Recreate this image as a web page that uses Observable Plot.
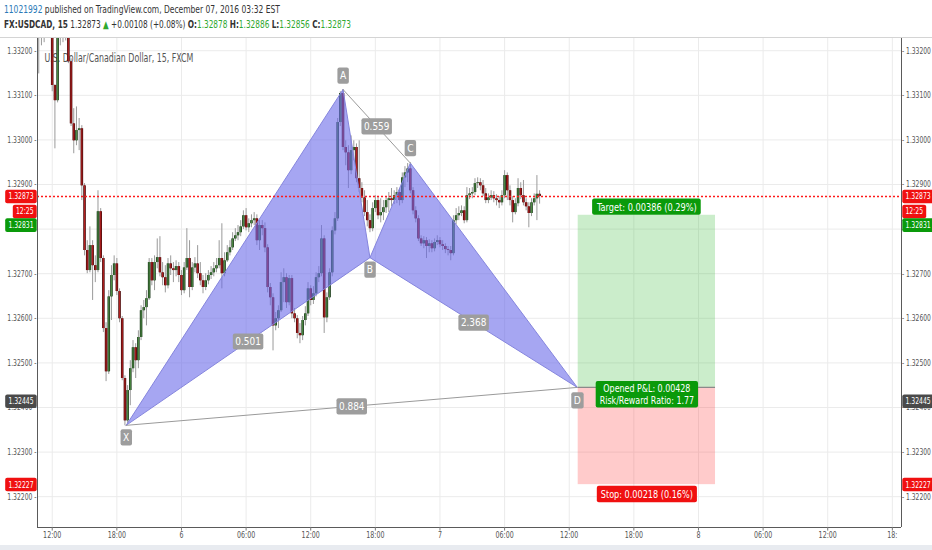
<!DOCTYPE html>
<html><head><meta charset="utf-8">
<script src="https://cdn.jsdelivr.net/npm/d3@7"></script>
<script src="https://cdn.jsdelivr.net/npm/@observablehq/plot@0.6"></script>
<style>
body{margin:0;background:#fff;width:932px;height:550px;overflow:hidden;font-family:"Liberation Sans Narrow","DejaVu Sans Condensed","Liberation Sans",Arial,sans-serif}
#hdr{height:38px;box-sizing:border-box;border-bottom:1px solid #d4d4d4;position:relative;color:#333;font-size:10.5px;white-space:nowrap}
#l1{position:absolute;left:4px;top:3px;transform:scaleX(0.80);transform-origin:0 50%}
#l2{position:absolute;left:4px;top:18px;transform:scaleX(0.78);transform-origin:0 50%}
.g{color:#2fa82f}
#foot{height:5px;background:#e8ebf0}
#chart svg{display:block}
</style></head><body>
<div id="hdr">
<div id="l1"><span style="color:#2a7ab8">11021992</span> published on TradingView.com, December 07, 2016 03:32 EST</div>
<div id="l2"><b>FX:USDCAD, 15</b> 1.32873 <span class="g">&#9650;</span> +0.00108 (+0.08%) <b>O:</b><span class="g">1.32878</span> <b>H:</b><span class="g">1.32886</span> <b>L:</b><span class="g">1.32856</span> <b>C:</b><span class="g">1.32873</span></div>
</div>
<div id="chart"></div>
<div id="foot"></div>
<script>
// ---- data ----
const candleStart = Date.UTC(2016, 11, 5, 10, 45);
const candleStepMinutes = 15;
const opens = [
1.33256,1.33240,1.33267,1.33278,1.33290,1.33256,1.33122,1.33088,1.33234,1.33245,
1.33234,1.33240,1.33175,1.33036,1.32998,1.33021,1.33025,1.32897,1.32752,1.32707,
1.32763,1.32718,1.32707,1.32839,1.32734,1.32577,1.32480,1.32648,1.32696,1.32722,
1.32660,1.32599,1.32465,1.32370,1.32438,1.32487,1.32534,1.32505,1.32557,1.32617,
1.32624,1.32644,1.32725,1.32684,1.32725,1.32736,1.32702,1.32691,1.32673,1.32722,
1.32711,1.32707,1.32716,1.32696,1.32662,1.32713,1.32734,1.32669,1.32713,1.32722,
1.32700,1.32684,1.32669,1.32684,1.32696,1.32702,1.32711,1.32718,1.32734,1.32700,
1.32729,1.32747,1.32758,1.32778,1.32785,1.32792,1.32805,1.32830,1.32803,1.32812,
1.32819,1.32823,1.32774,1.32808,1.32801,1.32758,1.32669,1.32646,1.32583,1.32599,
1.32617,1.32680,1.32691,1.32635,1.32689,1.32610,1.32599,1.32566,1.32561,1.32595,
1.32610,1.32666,1.32640,1.32655,1.32691,1.32700,1.32778,1.32601,1.32646,1.32702,
1.32796,1.32823,1.33039,1.33104,1.32983,1.32971,1.32931,1.32976,1.32983,1.32913,
1.32891,1.32870,1.32837,1.32819,1.32801,1.32846,1.32864,1.32830,1.32837,1.32848,
1.32864,1.32868,1.32864,1.32875,1.32882,1.32864,1.32915,1.32926,1.32935,1.32886,
1.32841,1.32823,1.32778,1.32767,1.32774,1.32761,1.32767,1.32756,1.32770,1.32774,
1.32765,1.32761,1.32754,1.32752,1.32745,1.32819,1.32830,1.32835,1.32841,1.32819,
1.32875,1.32879,1.32882,1.32902,1.32904,1.32897,1.32879,1.32864,1.32870,1.32875,
1.32868,1.32864,1.32859,1.32875,1.32920,1.32886,1.32864,1.32837,1.32857,1.32891,
1.32875,1.32859,1.32850,1.32835,1.32859,1.32868,1.32878];
const highs = [
1.33267,1.33278,1.33290,1.33312,1.33312,1.33267,1.33124,1.33245,1.33267,1.33256,
1.33249,1.33245,1.33182,1.33070,1.33074,1.33048,1.33032,1.32902,1.32774,1.32805,
1.32774,1.32740,1.32886,1.32846,1.32740,1.32590,1.32662,1.32718,1.32740,1.32734,
1.32666,1.32604,1.32471,1.32449,1.32505,1.32550,1.32543,1.32572,1.32628,1.32640,
1.32662,1.32734,1.32734,1.32740,1.32778,1.32783,1.32725,1.32718,1.32734,1.32740,
1.32725,1.32729,1.32725,1.32707,1.32725,1.32801,1.32774,1.32725,1.32736,1.32763,
1.32725,1.32696,1.32700,1.32707,1.32716,1.32725,1.32734,1.32774,1.32812,1.32747,
1.32763,1.32774,1.32792,1.32801,1.32808,1.32819,1.32841,1.32846,1.32823,1.32832,
1.32837,1.32832,1.32819,1.32819,1.32814,1.32765,1.32678,1.32655,1.32613,1.32628,
1.32702,1.32711,1.32700,1.32696,1.32696,1.32622,1.32606,1.32588,1.32604,1.32626,
1.32680,1.32673,1.32671,1.32702,1.32716,1.32808,1.32785,1.32657,1.32711,1.32805,
1.32837,1.33048,1.33108,1.33113,1.32998,1.32987,1.33009,1.32998,1.32991,1.32998,
1.32904,1.32886,1.32864,1.32832,1.32859,1.32875,1.32873,1.32868,1.32864,1.32873,
1.32882,1.32891,1.32886,1.32893,1.32891,1.32926,1.32940,1.32947,1.32949,1.32893,
1.32850,1.32830,1.32785,1.32783,1.32781,1.32776,1.32774,1.32778,1.32785,1.32781,
1.32774,1.32767,1.32761,1.32761,1.32830,1.32846,1.32850,1.32852,1.32850,1.32893,
1.32891,1.32893,1.32913,1.32915,1.32913,1.32909,1.32891,1.32879,1.32886,1.32884,
1.32877,1.32873,1.32886,1.32931,1.32926,1.32897,1.32873,1.32868,1.32913,1.32904,
1.32909,1.32868,1.32859,1.32868,1.32879,1.32920,1.32886];
const lows = [
1.33148,1.33211,1.33218,1.33245,1.33234,1.33108,1.32980,1.33083,1.33211,1.33218,
1.33222,1.33171,1.33030,1.32969,1.32987,1.32976,1.32864,1.32740,1.32700,1.32702,
1.32640,1.32680,1.32702,1.32725,1.32568,1.32458,1.32474,1.32595,1.32684,1.32651,
1.32590,1.32460,1.32359,1.32364,1.32404,1.32478,1.32465,1.32487,1.32550,1.32599,
1.32583,1.32640,1.32673,1.32662,1.32711,1.32693,1.32673,1.32657,1.32666,1.32696,
1.32680,1.32693,1.32680,1.32651,1.32655,1.32707,1.32646,1.32662,1.32702,1.32689,
1.32673,1.32655,1.32662,1.32675,1.32687,1.32693,1.32702,1.32711,1.32666,1.32693,
1.32725,1.32740,1.32752,1.32772,1.32774,1.32783,1.32799,1.32796,1.32792,1.32803,
1.32808,1.32763,1.32752,1.32785,1.32747,1.32657,1.32628,1.32527,1.32572,1.32577,
1.32613,1.32635,1.32622,1.32628,1.32599,1.32590,1.32554,1.32543,1.32550,1.32583,
1.32604,1.32628,1.32631,1.32648,1.32680,1.32693,1.32566,1.32590,1.32640,1.32693,
1.32787,1.32817,1.33030,1.32976,1.32942,1.32891,1.32922,1.32953,1.32904,1.32882,
1.32859,1.32828,1.32805,1.32792,1.32794,1.32837,1.32821,1.32814,1.32819,1.32835,
1.32837,1.32850,1.32855,1.32857,1.32852,1.32857,1.32893,1.32904,1.32879,1.32832,
1.32814,1.32772,1.32761,1.32756,1.32734,1.32747,1.32747,1.32749,1.32763,1.32758,
1.32752,1.32745,1.32740,1.32729,1.32740,1.32810,1.32819,1.32828,1.32812,1.32814,
1.32866,1.32868,1.32875,1.32891,1.32886,1.32873,1.32857,1.32857,1.32864,1.32859,
1.32852,1.32846,1.32852,1.32868,1.32864,1.32852,1.32814,1.32832,1.32850,1.32866,
1.32852,1.32841,1.32803,1.32828,1.32852,1.32819,1.32856];
const closes = [
1.33240,1.33267,1.33278,1.33290,1.33256,1.33122,1.33088,1.33234,1.33245,1.33234,
1.33240,1.33175,1.33036,1.32998,1.33021,1.33025,1.32897,1.32752,1.32707,1.32763,
1.32718,1.32707,1.32839,1.32734,1.32577,1.32480,1.32648,1.32696,1.32722,1.32660,
1.32599,1.32465,1.32370,1.32438,1.32487,1.32534,1.32505,1.32557,1.32617,1.32624,
1.32644,1.32725,1.32684,1.32725,1.32736,1.32702,1.32691,1.32673,1.32722,1.32711,
1.32707,1.32716,1.32696,1.32662,1.32713,1.32734,1.32669,1.32713,1.32722,1.32700,
1.32684,1.32669,1.32684,1.32696,1.32702,1.32711,1.32718,1.32734,1.32700,1.32729,
1.32747,1.32758,1.32778,1.32785,1.32792,1.32805,1.32830,1.32803,1.32812,1.32819,
1.32823,1.32774,1.32808,1.32801,1.32758,1.32669,1.32646,1.32583,1.32599,1.32617,
1.32680,1.32691,1.32635,1.32689,1.32610,1.32599,1.32566,1.32561,1.32595,1.32610,
1.32666,1.32640,1.32655,1.32691,1.32700,1.32778,1.32601,1.32646,1.32702,1.32796,
1.32823,1.33039,1.33104,1.32983,1.32971,1.32931,1.32976,1.32983,1.32913,1.32891,
1.32870,1.32837,1.32819,1.32801,1.32846,1.32864,1.32830,1.32837,1.32848,1.32864,
1.32868,1.32864,1.32875,1.32882,1.32864,1.32915,1.32926,1.32935,1.32886,1.32841,
1.32823,1.32778,1.32767,1.32774,1.32761,1.32767,1.32756,1.32770,1.32774,1.32765,
1.32761,1.32754,1.32752,1.32745,1.32819,1.32830,1.32835,1.32841,1.32819,1.32875,
1.32879,1.32882,1.32902,1.32904,1.32897,1.32879,1.32864,1.32870,1.32875,1.32868,
1.32864,1.32859,1.32875,1.32920,1.32886,1.32864,1.32837,1.32857,1.32891,1.32875,
1.32859,1.32850,1.32835,1.32859,1.32868,1.32878,1.32873];

const patternNames = ["X", "A", "B", "C", "D"];
const patternTimes = ["2016-12-05T18:52Z", "2016-12-06T15:00Z", "2016-12-06T17:30Z", "2016-12-06T21:15Z", "2016-12-07T12:45Z"];
const patternPrices = [1.32360, 1.33113, 1.32736, 1.32948, 1.32445];
const ratioLabels = ["0.501", "0.559", "2.368", "0.884"];
const ratioPairs = [[0, 2], [1, 3], [2, 4], [0, 4]];

const lastPrice = 1.32873;
const entryPrice = 1.32445;
const targetPrice = 1.32831;
const stopPrice = 1.32227;
const positionStart = "2016-12-07T12:50Z";
const positionEnd = "2016-12-08T01:35Z";
const targetText = "Target: 0.00386 (0.29%)";
const stopText = "Stop: 0.00218 (0.16%)";
const pnlText = "Opened P&L: 0.00428\nRisk/Reward Ratio: 1.77";
const countdownText = "12:25";
const watermark = "U.S. Dollar/Canadian Dollar, 15, FXCM";

const yTicks = [1.322, 1.323, 1.324, 1.325, 1.326, 1.327, 1.328, 1.329, 1.330, 1.331, 1.332];
const yTickLabels = ["1.32200", "1.32300", "1.32400", "1.32500", "1.32600", "1.32700", "1.32800", "1.32900", "1.33000", "1.33100", "1.33200"];
const xTickTimes = ["2016-12-05T12:00Z", "2016-12-05T18:00Z", "2016-12-06T00:00Z", "2016-12-06T06:00Z", "2016-12-06T12:00Z", "2016-12-06T18:00Z", "2016-12-07T00:00Z", "2016-12-07T06:00Z", "2016-12-07T12:00Z", "2016-12-07T18:00Z", "2016-12-08T00:00Z", "2016-12-08T06:00Z", "2016-12-08T12:00Z", "2016-12-08T18:00Z"];
const xTickLabels = ["12:00", "18:00", "6", "06:00", "12:00", "18:00", "7", "06:00", "12:00", "18:00", "8", "06:00", "12:00", "18:"];

// ---- build ----
const FONT = '"Liberation Sans Narrow","DejaVu Sans Condensed","Liberation Sans",Arial,sans-serif';
const RED = "#f01010", GREEN = "#0a9a0a", DARK = "#4a4a4a", GRAY = "#9d9d9d";
const fmt5 = d3.format(".5f");

const candles = opens.map((o, i) => ({t: new Date(candleStart + i * candleStepMinutes * 60000), o, h: highs[i], l: lows[i], c: closes[i]}));
const upC = candles.filter(d => d.c >= d.o);
const dnC = candles.filter(d => d.c < d.o);
const pts = patternNames.map((n, i) => ({n, t: new Date(patternTimes[i]), p: patternPrices[i]}));
const P = Object.fromEntries(pts.map(d => [d.n, d]));
const ratios = ratioLabels.map((r, i) => {
  const [a, b] = ratioPairs[i];
  return {r, t: new Date((pts[a].t.getTime() + pts[b].t.getTime()) / 2), p: (pts[a].p + pts[b].p) / 2};
});
const pStart = new Date(positionStart), pEnd = new Date(positionEnd);
const pMid = new Date((pStart.getTime() + pEnd.getTime()) / 2);
const zones = [
  {x1: pStart, x2: pEnd, y1: entryPrice, y2: targetPrice, fill: "#2eb82e"},
  {x1: pStart, x2: pEnd, y1: stopPrice, y2: entryPrice, fill: "#ff3030"}
];
const axisTags = [
  {price: lastPrice, label: fmt5(lastPrice), color: RED, dy: 0},
  {price: lastPrice, label: countdownText, color: RED, dy: 15},
  {price: targetPrice, label: fmt5(targetPrice), color: GREEN, dy: 10},
  {price: entryPrice, label: fmt5(entryPrice), color: DARK, dy: 14},
  {price: stopPrice, label: fmt5(stopPrice), color: RED, dy: 0}
];
const ptDy = {X: 12, A: -14, B: 12, C: -15, D: 13};

const yDom = [1.321309, 1.332274];
const xDom = [new Date(Date.UTC(2016, 11, 5, 10, 38)), new Date(Date.UTC(2016, 11, 8, 18, 51))];
const xTicksD = xTickTimes.map(s => new Date(s));

const marks = [
  Plot.ruleY(yTicks, {y: d => d, stroke: "#ebebeb"}),
  Plot.ruleX(xTicksD, {x: d => d, stroke: "#ebebeb"}),
  Plot.text([watermark], {text: d => d, frameAnchor: "top-left", dx: 7, dy: 15, textAnchor: "start", fontSize: 12.5, fill: "#555"}),
  Plot.rect(zones, {x1: "x1", x2: "x2", y1: "y1", y2: "y2", fill: d => d.fill, fillOpacity: 0.25}),
  Plot.ruleY([{y: entryPrice, x1: pStart, x2: pEnd}], {y: "y", x1: "x1", x2: "x2", stroke: "#8a8a8a", strokeWidth: 1.2}),
  Plot.ruleX(candles, {x: "t", y1: "l", y2: "h", stroke: "#9a9a9a", strokeWidth: 1, clip: true}),
  Plot.ruleX(upC, {x: "t", y1: "o", y2: "c", stroke: "#1d3a1d", strokeWidth: 2.6, clip: true}),
  Plot.ruleX(upC, {x: "t", y1: "o", y2: "c", stroke: "#4d8c43", strokeWidth: 1.1, clip: true}),
  Plot.ruleX(dnC, {x: "t", y1: "o", y2: "c", stroke: "#4a0c0c", strokeWidth: 2.6, clip: true}),
  Plot.ruleX(dnC, {x: "t", y1: "o", y2: "c", stroke: "#b31f1f", strokeWidth: 1.1, clip: true}),
  Plot.line([P.X, P.A, P.B, P.X], {x: "t", y: "p", fill: "#6b6bea", fillOpacity: 0.6, stroke: "#8585dd", strokeWidth: 1}),
  Plot.line([P.B, P.C, P.D, P.B], {x: "t", y: "p", fill: "#6b6bea", fillOpacity: 0.6, stroke: "#8585dd", strokeWidth: 1}),
  Plot.line([P.A, P.C], {x: "t", y: "p", stroke: "#9a9a9a", strokeWidth: 1}),
  Plot.line([P.X, P.D], {x: "t", y: "p", stroke: "#9a9a9a", strokeWidth: 1}),
  Plot.ruleY([lastPrice], {y: d => d, stroke: "#ff1a1a", strokeWidth: 1.6, strokeDasharray: "2,2"}),
  Plot.ruleX(xDom, {x: d => d, stroke: "#5a5a5a"}),
  Plot.ruleY([yDom[0]], {y: d => d, stroke: "#5a5a5a"}),
  Plot.ruleX(xTicksD, {x: d => d, y1: () => yDom[0], y2: () => yDom[0] - 0.00008, stroke: "#777"}),
  Plot.text(yTicks, {y: d => d, text: (d, i) => yTickLabels[i] + " -", frameAnchor: "left", dx: -1, textAnchor: "end", fill: "#555", fontSize: 9}),
  Plot.text(yTicks, {y: d => d, text: (d, i) => "- " + yTickLabels[i], frameAnchor: "right", dx: 0.5, textAnchor: "start", fill: "#555", fontSize: 9}),
  Plot.text(xTicksD, {x: d => d, text: (d, i) => xTickLabels[i], frameAnchor: "bottom", dy: 10, fill: "#555", fontSize: 9}),
  ...axisTags.flatMap(tag => ["left", "right"].map(side =>
    Plot.text([tag], {y: "price", text: "label", frameAnchor: side, dx: side === "left" ? -4 : 4, dy: tag.dy,
      textAnchor: side === "left" ? "end" : "start", fill: "white", fontSize: 9}))),
  ...pts.map(d => Plot.text([d], {x: "t", y: "p", text: "n", dy: ptDy[d.n], fill: "white", fontSize: 11})),
  Plot.text(ratios, {x: "t", y: "p", text: "r", fill: "white", fontSize: 11}),
  Plot.text([{t: pMid, p: targetPrice, s: targetText}], {x: "t", y: "p", text: "s", dy: -8, fill: "white", fontSize: 10.5}),
  Plot.text([{t: pMid, p: stopPrice, s: stopText}], {x: "t", y: "p", text: "s", dy: 10, fill: "white", fontSize: 10.5}),
  Plot.text([{t: pMid, p: entryPrice, s: pnlText}], {x: "t", y: "p", text: "s", dy: 7, lineHeight: 1.12, fill: "white", fontSize: 10.5})
];

const chart = Plot.plot({
  width: 932, height: 507,
  marginTop: 0, marginBottom: 18, marginLeft: 37, marginRight: 31,
  x: {type: "utc", domain: xDom, axis: null},
  y: {domain: yDom, axis: null},
  style: {fontFamily: FONT, fontSize: "9px", background: "#fff", overflow: "hidden"},
  marks
});
document.getElementById("chart").append(chart);

// condensed look (no narrow font installed): squeeze glyphs horizontally
const squeeze = new Map();
squeeze.set(watermark, 0.7);
patternNames.forEach(n => squeeze.set(n, 0.92));
ratioLabels.forEach(r => squeeze.set(r, 0.9));
squeeze.set(targetText, 0.87);
squeeze.set(stopText, 0.86);
squeeze.set(pnlText.replace("\n", ""), 0.84);
yTickLabels.forEach(s => { squeeze.set(s + " -", 0.75); squeeze.set("- " + s, 0.74); });
axisTags.forEach(t => squeeze.set(t.label, 0.75));
function condense(el, f) {
  const spans = el.querySelectorAll("tspan");
  const targets = spans.length ? Array.from(spans) : [el];
  targets.forEach(t => {
    const w = t.getComputedTextLength();
    if (w > 0) {
      t.setAttribute("textLength", (w * f).toFixed(2));
      t.setAttribute("lengthAdjust", "spacingAndGlyphs");
    }
  });
}
d3.select(chart).selectAll("text").each(function () {
  const f = squeeze.has(this.textContent) ? squeeze.get(this.textContent) : 0.78;
  condense(this, f);
});

// label backgrounds
const bg = new Map();
axisTags.forEach(t => bg.set(t.label, [t.color, 3.2, 1.8]));
patternNames.forEach(n => bg.set(n, [GRAY, 2.5, 1.6]));
ratioLabels.forEach(r => bg.set(r, [GRAY, 2.5, 1.6]));
bg.set(targetText, [GREEN, 4, 2.2]);
bg.set(stopText, [RED, 4, 2.2]);
bg.set(pnlText.replace("\n", ""), [GREEN, 4, 1.4]);
d3.select(chart).selectAll("text").each(function () {
  const spec = bg.get(this.textContent);
  if (!spec) return;
  const [col, px, py] = spec;
  const b = this.getBBox();
  const r = document.createElementNS("http://www.w3.org/2000/svg", "rect");
  r.setAttribute("x", b.x - px);
  r.setAttribute("y", b.y - py);
  r.setAttribute("width", b.width + 2 * px);
  r.setAttribute("height", b.height + 2 * py);
  r.setAttribute("rx", 2);
  r.setAttribute("fill", col);
  r.setAttribute("stroke", "none");
  const tr = this.getAttribute("transform");
  if (tr) r.setAttribute("transform", tr);
  this.parentNode.insertBefore(r, this);
});
</script>
</body></html>
